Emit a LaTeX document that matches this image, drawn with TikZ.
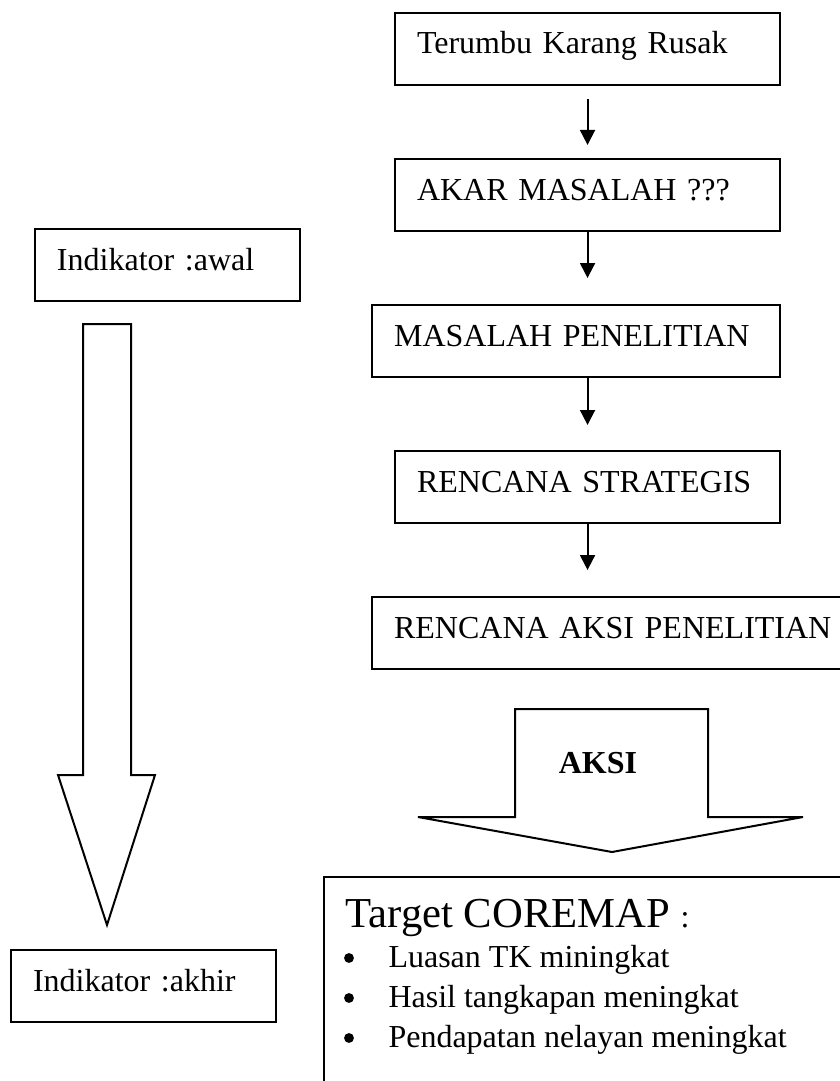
\documentclass[tikz,border=0pt]{standalone}
\usepackage{fontspec}
\setmainfont{Liberation Serif}
\usetikzlibrary{arrows.meta, positioning}

\begin{document}
\begin{tikzpicture}[
    x=0.375pt, y=-0.375pt,
    node distance=27pt,
    every node/.style={font=\fontsize{12pt}{15pt}\selectfont},
    box/.style={draw, line width=0.75pt, inner xsep=8.25pt, inner ysep=0pt, text height=15.375pt, text depth=11.625pt, text width=#1, align=left},
    arrow/.style={-{Triangle[length=5.6pt, width=5.6pt]}, line width=0.75pt},
    blockarrow/.style={draw, line width=0.75pt, line join=miter},
    item/.style={anchor=base west, inner sep=0pt}
]
\useasboundingbox (0,0) rectangle (840,1081);
\clip (0,0) rectangle (840,1081);

% right column
\node[box=127.9pt, anchor=north west] (reef) at (394,12) {Terumbu Karang Rusak};
\node[box=127.9pt, below=of reef] (root) {AKAR MASALAH ???};
\node[box=136.5pt, below=of root.south east, anchor=north east] (problem) {MASALAH PENELITIAN};
\node[box=127.9pt, below=of problem.south east, anchor=north east] (strategy) {RENCANA STRATEGIS};
\node[box=171pt, anchor=north west] (plan) at ([yshift=-27pt]strategy.south -| problem.west) {RENCANA AKSI PENELITIAN};

\draw[arrow, shorten <=4.9pt, shorten >=4.9pt] (reef) -- (root);
\draw[arrow, shorten >=9.75pt] (root) -- (root.south |- problem.north);
\draw[arrow, shorten >=9.4pt] (root.south |- problem.south) -- (strategy.north);
\draw[arrow, shorten >=9.75pt] (strategy) -- (strategy.south |- plan.north);

% left column
\node[box=82.9pt, anchor=north west] (start) at (34,228) {Indikator :awal};
\node[box=82.9pt, anchor=north west] (finish) at (10,949) {Indikator :akhir};
\draw[blockarrow] (83,324) -- (131,324) -- (131,775) -- (155,775) -- (107,925) -- (58,775) -- (83,775) -- cycle;

% aksi
\draw[blockarrow] (515,709) -- (708,709) -- (708,817) -- (803,817) -- (612,852) -- (418,817) -- (515,817) -- cycle;
\node[font=\fontsize{12pt}{15pt}\selectfont\bfseries, anchor=base] (action) at (598,773) {AKSI};

% target
\node[draw, line width=0.75pt, anchor=north west, minimum width=225pt, minimum height=120pt] (target) at (323,876) {};
\node[anchor=base west, inner sep=0pt, font=\fontsize{16pt}{19pt}\selectfont] (targettitle) at (345,927) {Target COREMAP {\fontsize{12pt}{15pt}\selectfont :}};
\foreach \txt/\ypos [count=\i] in {Luasan TK miningkat/967, Hasil tangkapan meningkat/1007, Pendapatan nelayan meningkat/1047}{
  \fill (349,{\ypos-9}) circle (1.85pt);
  \node[item] (goal\i) at (388,\ypos) {\txt};
}
\end{tikzpicture}
\end{document}
